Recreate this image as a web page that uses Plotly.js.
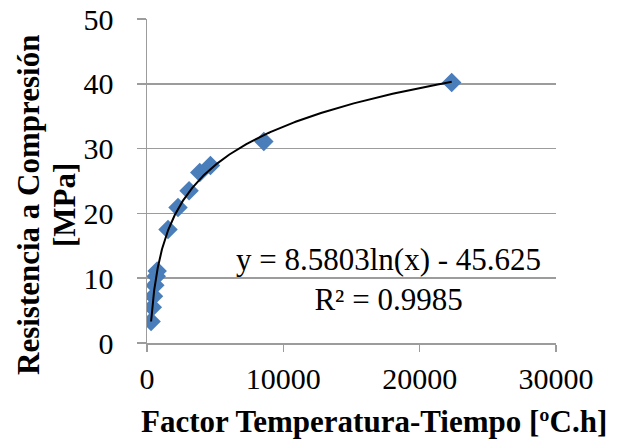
<!DOCTYPE html>
<html>
<head>
<meta charset="utf-8">
<script src="https://cdn.plot.ly/plotly-3.0.1.min.js"></script>
<style>html,body{margin:0;padding:0;background:#fff;}#chart{width:630px;height:441px;}</style>
</head>
<body>
<div id="chart"></div>
<script>
// Data
const factorTT = [300, 390, 475, 575, 680, 745, 1540, 2275, 3085, 3870, 4655, 8570, 22350];
const resistencia = [3.3, 5.5, 7.2, 8.9, 10.3, 11.1, 17.5, 20.9, 23.5, 26.3, 27.4, 31.1, 40.2];
const xTicks = [0, 10000, 20000, 30000];
const yTicks = [0, 10, 20, 30, 40, 50];
// Trendline coefficients shown in the chart
const trendA = 8.5803;
const trendB = -45.625;
const eqText = 'y = 8.5803ln(x) - 45.625<br>R² = 0.9985';
const xTitle = 'Factor Temperatura-Tiempo [ºC.h]';
const yTitle1 = 'Resistencia a Compresión';
const yTitle2 = '[MPa]';

const xMin = Math.min(...factorTT), xMax = Math.max(...factorTT);
const trendX = [], trendY = [];
for (let i = 0; i <= 300; i++) {
  const x = xMin * Math.pow(xMax / xMin, i / 300);
  trendX.push(x);
  trendY.push(trendA * Math.log(x) + trendB);
}

const serif = '"Liberation Serif", "Times New Roman", serif';
const gridCol = '#9c9c9c';

const data = [
  {x: factorTT, y: resistencia, type: 'scatter', mode: 'markers',
   marker: {symbol: 'diamond', size: 15, color: '#4a7ebb'}, hoverinfo: 'skip'},
  {x: trendX, y: trendY, type: 'scatter', mode: 'lines',
   line: {color: '#000000', width: 2}, hoverinfo: 'skip'}
];

const layout = {
  width: 630, height: 441,
  margin: {l: 147, r: 74, t: 19, b: 98},
  paper_bgcolor: '#ffffff', plot_bgcolor: '#ffffff',
  showlegend: false,
  font: {family: serif, color: '#000000', size: 30},
  xaxis: {
    range: [0, 30000], tickvals: xTicks, ticktext: xTicks.map(String),
    showgrid: false, zeroline: false, showline: true, linecolor: gridCol, linewidth: 1.5,
    ticks: 'outside', ticklen: 7, tickcolor: gridCol, tickwidth: 1.5,
    tickfont: {family: serif, size: 30, color: '#000'}, ticklabelstandoff: 1,
    fixedrange: true
  },
  yaxis: {
    range: [0, 50], tickvals: yTicks, ticktext: yTicks.map(String),
    showgrid: true, gridcolor: gridCol, gridwidth: 1.5,
    zeroline: false, showline: true, linecolor: gridCol, linewidth: 1.5,
    ticks: 'outside', ticklen: 9, tickcolor: gridCol, tickwidth: 1.5,
    tickfont: {family: serif, size: 30, color: '#000'}, ticklabelstandoff: 17,
    fixedrange: true
  },
  annotations: [
    {xref: 'paper', yref: 'paper', x: (388 - 147) / 409, y: (343 - 279) / 324,
     xanchor: 'center', yanchor: 'middle', showarrow: false, align: 'center',
     text: eqText, font: {family: serif, size: 31, color: '#000'}},
    {xref: 'paper', yref: 'paper', x: (374 - 147) / 409, y: (343 - 421) / 324,
     xanchor: 'center', yanchor: 'middle', showarrow: false,
     text: '<b>' + xTitle + '</b>', font: {family: serif, size: 31, color: '#000'}},
    {xref: 'paper', yref: 'paper', x: (28 - 147) / 409, y: (343 - 205) / 324,
     xanchor: 'center', yanchor: 'middle', showarrow: false, textangle: -90,
     text: '<b>' + yTitle1 + '</b>', font: {family: serif, size: 31, color: '#000'}},
    {xref: 'paper', yref: 'paper', x: (64 - 147) / 409, y: (343 - 205) / 324,
     xanchor: 'center', yanchor: 'middle', showarrow: false, textangle: -90,
     text: '<b>' + yTitle2 + '</b>', font: {family: serif, size: 31, color: '#000'}}
  ]
};

Plotly.newPlot('chart', data, layout, {staticPlot: true, displayModeBar: false});
</script>
</body>
</html>
